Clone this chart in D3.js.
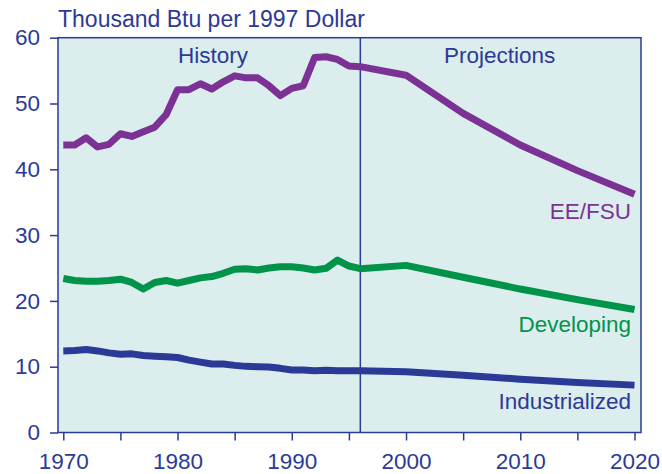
<!DOCTYPE html>
<html>
<head>
<meta charset="utf-8">
<script src="https://cdn.jsdelivr.net/npm/d3@7"></script>
<style>
  body { margin: 0; background: #fff; }
  text { font-family: "Liberation Sans", Arial, Helvetica, sans-serif; }
</style>
</head>
<body>
<svg id="chart"></svg>
<script>
const width = 662;
const height = 474;

// data
const histYears = d3.range(1970, 1997);
const projYears = [2000, 2005, 2010, 2015, 2020];
const years = histYears.concat(projYears);

const eefsu = [43.7, 43.7, 44.8, 43.4, 43.8, 45.4, 45.0, 45.7, 46.4, 48.3,
  52.1, 52.1, 53.0, 52.2, 53.3, 54.2, 53.9, 53.9, 52.7, 51.2,
  52.3, 52.7, 57.0, 57.1, 56.7, 55.7, 55.6,
  54.3, 48.5, 43.7, 39.8, 36.2];
const developing = [23.4, 23.1, 23.0, 23.0, 23.1, 23.3, 22.8, 21.8, 22.8, 23.1,
  22.7, 23.1, 23.5, 23.7, 24.2, 24.8, 24.9, 24.7, 25.0, 25.2,
  25.2, 25.0, 24.7, 24.95, 26.2, 25.3, 24.9,
  25.4, 23.6, 21.8, 20.2, 18.7];
const industrialized = [12.4, 12.45, 12.6, 12.4, 12.1, 11.9, 11.95, 11.7, 11.6, 11.5,
  11.4, 11.0, 10.7, 10.4, 10.4, 10.2, 10.05, 10.0, 9.95, 9.75,
  9.5, 9.5, 9.4, 9.45, 9.4, 9.4, 9.4,
  9.25, 8.7, 8.1, 7.6, 7.2];

const seriesNames = ["EE/FSU", "Developing", "Industrialized"];
const seriesValues = [eefsu, developing, industrialized];
const seriesColors = ["#7B3294", "#00944A", "#2B3A97"];
const labelValues = [32.45, 15.3, 3.57];

const yTicks = [0, 10, 20, 30, 40, 50, 60];
const xTickMarks = d3.range(1970, 2021, 5);
const xTickLabels = [1970, 1980, 1990, 2000, 2010, 2020];
const splitYear = 1996;

const navy = "#2B3A97";
const fontSize = "22.5px";

const svg = d3.select("#chart")
  .attr("width", width)
  .attr("height", height);

const box = { left: 58, right: 641, top: 37.7, bottom: 432.5 };

const x = d3.scaleLinear().domain([1970, 2020]).range([63.3, 634.5]);
const y = d3.scaleLinear().domain([0, 60]).range([box.bottom, box.top]);

svg.append("rect")
  .attr("x", box.left)
  .attr("y", box.top)
  .attr("width", box.right - box.left)
  .attr("height", box.bottom - box.top)
  .attr("fill", "#DCEDED")
  .attr("stroke", navy)
  .attr("stroke-width", 1.5);

// axes
const yAxis = svg.append("g")
  .attr("transform", `translate(${box.left},0)`)
  .call(d3.axisLeft(y).tickValues(yTicks).tickSize(8).tickPadding(10));

const xAxis = svg.append("g")
  .attr("transform", `translate(0,${box.bottom})`)
  .call(d3.axisBottom(x).tickValues(xTickMarks).tickSize(8).tickPadding(12.5)
    .tickFormat(d => xTickLabels.includes(d) ? d : ""));

[yAxis, xAxis].forEach(g => {
  g.select(".domain").remove();
  g.selectAll("line").attr("stroke", navy).attr("stroke-width", 1.5);
  g.selectAll("text").attr("fill", navy).style("font-size", fontSize);
});

// history / projections divider
svg.append("line")
  .attr("x1", x(splitYear)).attr("x2", x(splitYear))
  .attr("y1", box.top).attr("y2", box.bottom)
  .attr("stroke", navy)
  .attr("stroke-width", 1.5);

const line = d3.line()
  .x((d, i) => x(years[i]))
  .y(d => y(d));

svg.append("g")
  .selectAll("path")
  .data(seriesValues)
  .join("path")
  .attr("d", line)
  .attr("fill", "none")
  .attr("stroke", (d, i) => seriesColors[i])
  .attr("stroke-width", 7)
  .attr("stroke-linejoin", "round");

svg.append("g")
  .selectAll("text")
  .data(seriesNames)
  .join("text")
  .attr("x", 631)
  .attr("y", (d, i) => y(labelValues[i]))
  .attr("text-anchor", "end")
  .attr("fill", (d, i) => seriesColors[i])
  .style("font-size", fontSize)
  .text(d => d);

svg.append("text")
  .attr("x", x(1983.1))
  .attr("y", 63)
  .attr("text-anchor", "middle")
  .attr("fill", navy)
  .style("font-size", fontSize)
  .text("History");

svg.append("text")
  .attr("x", x(2008.2))
  .attr("y", 63)
  .attr("text-anchor", "middle")
  .attr("fill", navy)
  .style("font-size", fontSize)
  .text("Projections");

svg.append("text")
  .attr("x", 58)
  .attr("y", 27)
  .attr("fill", navy)
  .style("font-size", "23px")
  .text("Thousand Btu per 1997 Dollar");
</script>
</body>
</html>
